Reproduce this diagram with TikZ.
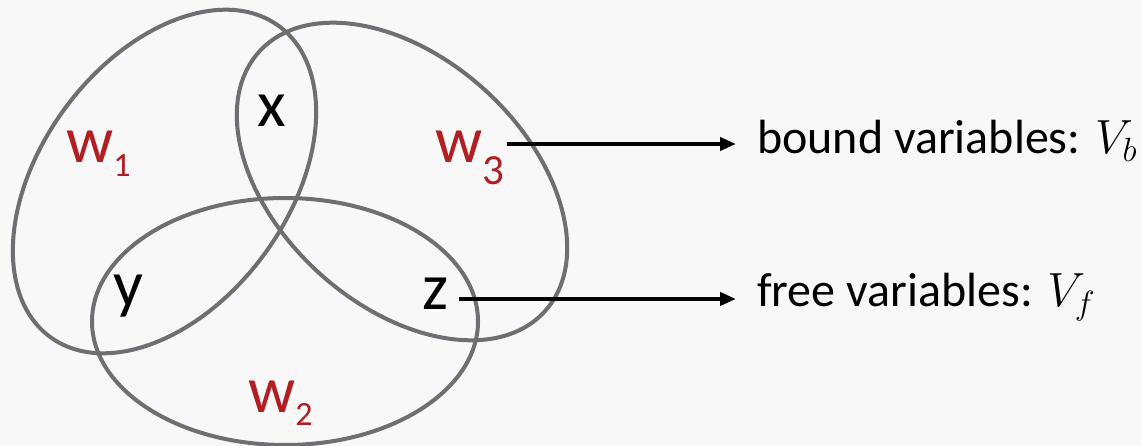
\RequirePackage{fix-cm}
\documentclass[tikz,border=0pt]{standalone}
\usepackage{fontspec}
\setmainfont{Carlito}
\usetikzlibrary{shapes.geometric,arrows.meta}
\definecolor{bg}{HTML}{F8F8F8}
\definecolor{setgray}{HTML}{6E6E73}
\definecolor{wred}{HTML}{B21E22}
\begin{document}
\begin{tikzpicture}[x=1pt,y=1pt,
  setshape/.style={ellipse, draw=setgray, line width=4pt, minimum width=386pt, minimum height=247pt, inner sep=0pt, outer sep=0pt},
  letter/.style={font=\fontsize{66}{70}\selectfont, inner sep=0pt, anchor=base},
  wlabel/.style={font=\fontsize{66}{70}\selectfont, text=wred, inner sep=0pt, anchor=base west},
  desc/.style={font=\fontsize{48}{56}\selectfont, inner sep=0pt, anchor=base west},
  conn/.style={line width=4.5pt, -{Triangle[length=16pt,width=13pt]}}]
\fill[bg] (0,0) rectangle (1141,-446);
\useasboundingbox (0,0) rectangle (1141,-446);
% sets
\node[setshape, rotate=53.6] (W1) at (164.5,-181.5) {};
\node[setshape, rotate=-42.3] (W3) at (402,-181.5) {};
\node[setshape] (W2) at (285,-321.5) {};
% set labels
\node[wlabel] (w1) at (66,-163) {w\raisebox{-14pt}{\fontsize{34}{34}\selectfont 1}};
\node[wlabel] (w3) at (435,-163) {w\raisebox{-22pt}{\fontsize{43}{43}\selectfont 3}};
\node[wlabel] (w2) at (248,-413) {w\raisebox{-13pt}{\fontsize{34}{34}\selectfont 2}};
% variables
\node[letter] (x) at (272,-127) {x};
\node[letter] (y) at (128,-307) {y};
\node[letter] (z) at (436,-310) {z};
% descriptions
\node[desc] (bound) at (757,-154) {bound variables: $V_b$};
\node[desc] (free) at (757,-307) {free variables: $V_f$};
% connectors
\coordinate (s3) at (507,-144);
\coordinate (sz) at (459,-299);
\draw[conn] (s3) -- ([xshift=-21pt]s3 -| bound.west);
\draw[conn] (sz) -- ([xshift=-21pt]sz -| free.west);
\end{tikzpicture}
\end{document}
